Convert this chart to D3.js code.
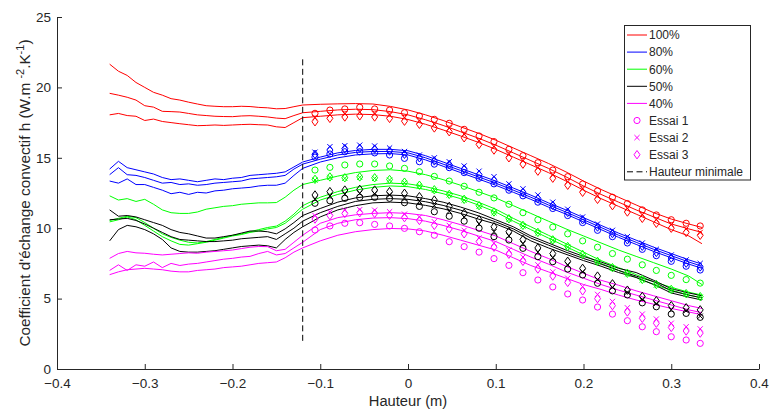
<!DOCTYPE html>
<html><head><meta charset="utf-8">
<script src="https://cdn.jsdelivr.net/npm/d3@7"></script>
<style>
body{margin:0;background:#fff}
svg{display:block}
text{font-family:"Liberation Sans",Arial,Helvetica,sans-serif;fill:#262626}
</style>
</head><body>
<svg id="c" width="772" height="415"></svg>
<script>
// ---------- data ----------
const lineX = [-0.34,-0.33,-0.32,-0.31,-0.30,-0.29,-0.28,-0.27,-0.26,-0.25,-0.24,-0.23,-0.22,-0.21,-0.20,-0.19,-0.18,-0.17,-0.16,-0.15,-0.14,-0.13,-0.12,
  -0.10,-0.08,-0.06,-0.04,-0.02,0.00,0.02,0.04,0.06,0.08,0.10,0.12,0.14,0.16,0.18,0.20,0.22,0.24,0.26,0.28,0.30,0.32,0.335];
const markerX = [-0.106,-0.089,-0.072,-0.055,-0.038,-0.021,-0.004,0.013,0.030,0.047,0.064,0.081,0.098,0.115,0.131,0.148,0.165,0.182,0.199,0.216,0.233,0.250,0.267,0.283,0.300,0.317,0.333];

// 100 %
const red1 = [21.65,21.15,20.85,20.35,20.0,19.65,19.45,19.2,19.1,18.95,18.82,18.7,18.66,18.63,18.63,18.66,18.64,18.58,18.55,18.48,18.5,18.63,18.75,
  18.8,18.83,18.85,18.82,18.65,18.4,18.05,17.65,17.2,16.75,16.25,15.7,15.15,14.6,14.0,13.35,12.75,12.2,11.65,11.1,10.65,10.3,10.05];
const red2 = [19.58,19.45,19.3,19.1,18.7,18.6,18.3,18.28,18.25,18.15,18.05,18.0,17.95,17.93,17.92,17.97,17.99,17.95,17.9,17.82,17.78,18.0,18.2,
  18.3,18.4,18.45,18.42,18.28,18.05,17.7,17.3,16.85,16.4,15.9,15.35,14.8,14.25,13.65,13.0,12.4,11.85,11.3,10.8,10.3,9.95,9.7];
const red3 = [18.05,18.15,18.0,17.95,17.65,17.75,17.58,17.5,17.42,17.35,17.28,17.3,17.33,17.3,17.33,17.36,17.38,17.35,17.33,17.2,17.15,17.5,17.85,
  17.95,18.05,18.1,18.07,17.95,17.72,17.38,16.98,16.55,16.1,15.6,15.05,14.5,13.95,13.35,12.7,12.1,11.55,11.0,10.45,9.9,9.45,8.9];
const redEssai1 = [18.16,18.39,18.47,18.59,18.47,18.39,18.2,17.97,17.73,17.45,17.02,16.55,16.15,15.6,15.15,14.65,14.13,13.66,13.14,12.65,12.2,11.75,11.3,10.94,10.6,10.35,10.16];
const redEssai2 = [17.85,18.05,18.12,18.24,18.12,18.04,17.85,17.62,17.38,17.1,16.67,16.2,15.8,15.25,14.8,14.3,13.78,13.3,12.8,12.3,11.85,11.4,10.95,10.6,10.25,9.95,9.7];
const redEssai3 = [17.56,17.8,17.9,17.98,17.9,17.8,17.6,17.38,17.12,16.85,16.42,15.95,15.55,15.0,14.55,14.05,13.55,13.05,12.55,12.05,11.6,11.15,10.7,10.35,10.0,9.7,9.5];

// 80 %
const blue1 = [14.2,14.75,14.3,14.15,14.0,13.85,13.6,13.45,13.5,13.4,13.3,13.4,13.5,13.45,13.55,13.6,13.75,13.8,13.85,13.9,14.0,14.35,14.7,
  15.05,15.35,15.52,15.6,15.6,15.5,15.15,14.7,14.25,13.8,13.35,12.85,12.35,11.8,11.3,10.75,10.2,9.65,9.15,8.65,8.2,7.75,7.45];
const blue2 = [13.8,14.3,13.8,13.75,13.6,13.4,13.2,13.25,13.1,13.15,13.05,13.1,13.2,13.25,13.3,13.35,13.5,13.55,13.6,13.65,13.75,14.2,14.55,
  14.9,15.2,15.38,15.45,15.45,15.35,15.0,14.55,14.1,13.65,13.2,12.7,12.2,11.65,11.15,10.6,10.05,9.5,9.0,8.5,8.05,7.6,7.3];
const blue3 = [13.35,13.2,13.5,13.1,13.1,12.9,12.7,12.45,12.55,12.4,12.55,12.5,12.65,12.7,12.8,12.85,12.9,13.0,13.05,13.05,13.2,13.75,14.25,
  14.7,15.0,15.2,15.28,15.3,15.2,14.85,14.4,13.95,13.5,13.05,12.55,12.05,11.5,11.0,10.45,9.9,9.35,8.85,8.35,7.9,7.45,7.15];
const blueEssai1 = [15.05,15.27,15.43,15.43,15.35,15.2,14.96,14.72,14.55,14.3,13.95,13.55,13.15,12.7,12.3,11.85,11.4,10.9,10.4,9.85,9.4,8.95,8.5,8.05,7.65,7.3,7.03];
const blueEssai2 = [15.4,15.79,15.86,15.9,15.84,15.7,15.45,15.2,15.0,14.72,14.42,14.05,13.66,13.15,12.8,12.36,11.85,11.35,10.8,10.3,9.85,9.4,8.95,8.5,8.1,7.75,7.5];
const blueEssai3 = [15.25,15.55,15.65,15.68,15.62,15.48,15.25,15.0,14.78,14.52,14.2,13.8,13.4,12.92,12.55,12.1,11.62,11.12,10.6,10.08,9.62,9.17,8.72,8.28,7.88,7.52,7.25];

// 60 %
const green1 = [12.3,12.0,12.1,11.9,12.05,11.7,11.3,11.1,11.05,11.05,11.15,11.35,11.45,11.55,11.6,11.7,11.75,11.8,11.8,11.82,12.2,12.7,13.1,
  13.4,13.7,13.95,14.1,14.15,14.05,13.8,13.45,13.05,12.6,12.15,11.6,11.05,10.5,9.95,9.45,8.95,8.45,8.0,7.55,7.1,6.6,6.0];
const green2 = [10.55,10.7,10.85,10.75,10.4,10.0,9.6,9.35,9.15,9.0,8.95,9.05,9.2,9.35,9.5,9.6,9.75,9.9,10.05,10.15,10.5,11.0,11.6,
  12.2,12.6,12.9,13.1,13.2,13.15,12.95,12.65,12.3,11.85,11.35,10.7,10.1,9.5,8.9,8.3,7.7,7.2,6.7,6.2,5.8,5.45,5.25];
const green3 = [10.45,10.6,10.8,10.6,10.2,9.8,9.4,9.1,8.85,8.8,8.9,9.0,9.15,9.3,9.45,9.55,9.7,9.8,9.95,10.05,10.35,10.85,11.35,
  12.0,12.4,12.7,12.9,13.0,12.95,12.75,12.45,12.1,11.65,11.15,10.5,9.9,9.3,8.7,8.1,7.5,7.0,6.5,6.0,5.6,5.25,5.05];
const greenEssai1 = [14.13,14.32,14.49,14.56,14.56,14.42,14.25,14.01,13.68,13.35,12.98,12.55,12.15,11.7,11.1,10.6,10.08,9.6,9.1,8.65,8.2,7.8,7.4,7.0,6.65,6.35,6.1];
const greenEssai2 = [13.42,13.61,13.54,13.61,13.54,13.42,13.23,13.0,12.69,12.36,12.0,11.55,11.1,10.62,10.16,9.66,9.13,8.66,8.1,7.6,7.15,6.75,6.32,5.95,5.6,5.3,5.1];
const greenEssai3 = [13.47,13.64,13.58,13.64,13.58,13.46,13.27,13.05,12.73,12.4,12.05,11.6,11.15,10.67,10.2,9.7,9.17,8.7,8.14,7.64,7.2,6.8,6.36,6.0,5.65,5.35,5.14];

// 50 %
const black1 = [11.3,10.85,10.9,10.8,10.6,10.4,10.2,9.9,9.7,9.6,9.45,9.3,9.3,9.4,9.5,9.65,9.8,9.8,9.75,9.6,9.95,10.4,10.9,
  11.4,11.85,12.15,12.3,12.35,12.3,12.1,11.85,11.5,11.1,10.6,10.1,9.45,8.95,8.45,8.0,7.6,7.15,6.85,6.3,5.7,5.4,5.2];
const black2 = [10.6,10.65,10.7,10.55,10.3,10.0,9.7,9.4,9.2,9.15,9.1,9.05,9.05,9.1,9.15,9.25,9.3,9.35,9.4,9.2,9.6,10.0,10.5,
  11.1,11.55,11.9,12.05,12.1,12.05,11.88,11.62,11.28,10.88,10.45,9.95,9.3,8.8,8.3,7.85,7.45,7.0,6.6,6.2,5.55,5.25,5.05];
const black3 = [9.1,9.9,10.2,10.1,9.9,9.6,9.2,8.6,8.35,8.3,8.3,8.35,8.4,8.5,8.6,8.7,8.75,8.8,8.75,8.6,9.2,9.7,10.1,
  10.8,11.3,11.6,11.8,11.85,11.8,11.62,11.38,11.05,10.65,10.3,9.8,9.1,8.6,8.15,7.7,7.3,6.85,6.5,6.0,5.4,5.1,4.9];
const blackEssai1 = [11.77,11.95,12.12,12.19,12.19,12.12,11.81,11.55,11.17,10.85,10.5,10.0,9.4,9.16,8.57,7.98,7.62,7.1,6.68,6.09,5.55,5.26,4.7,4.42,3.9,3.95,3.67];
const blackEssai2 = [12.05,12.28,12.42,12.48,12.45,12.36,12.15,11.9,11.6,11.2,10.8,10.3,9.75,9.45,8.9,8.3,7.9,7.4,6.9,6.35,5.8,5.45,4.95,4.65,4.2,4.15,3.75];
const blackEssai3 = [12.36,12.6,12.71,12.76,12.71,12.6,12.48,12.24,12.0,11.55,11.06,10.6,10.1,9.75,9.2,8.6,8.2,7.65,7.15,6.6,6.05,5.6,5.15,4.85,4.5,4.35,4.2];

// 40 %
const mag1 = [7.86,8.2,8.35,8.25,8.22,8.15,8.1,8.15,8.2,8.25,8.22,8.3,8.35,8.4,8.45,8.55,8.65,8.7,8.69,8.4,8.5,9.0,9.5,
  10.35,10.75,10.95,11.05,11.1,11.05,10.9,10.6,10.25,9.85,9.45,8.9,8.35,7.85,7.3,6.8,6.3,5.95,5.55,5.2,4.85,4.5,4.3];
const mag2 = [7.0,7.4,7.0,7.4,7.3,7.6,7.2,7.5,7.35,7.45,7.5,7.6,7.7,7.8,7.86,7.95,8.0,8.2,8.35,8.1,8.2,8.6,9.0,
  9.9,10.35,10.6,10.72,10.75,10.68,10.5,10.2,9.85,9.45,9.05,8.5,7.95,7.45,6.9,6.45,6.0,5.6,5.25,4.9,4.55,4.2,4.0];
const mag3 = [6.7,6.9,7.05,7.1,7.15,7.1,7.05,6.95,6.9,6.9,7.0,7.05,7.1,7.2,7.25,7.3,7.4,7.5,7.55,7.6,7.9,8.3,8.6,
  9.1,9.5,9.75,9.9,9.98,9.95,9.8,9.5,9.15,8.8,8.45,7.9,7.35,6.9,6.45,6.0,5.65,5.25,4.9,4.6,4.3,4.05,3.85];
const magEssai1 = [9.87,10.16,10.35,10.39,10.27,10.16,9.99,9.75,9.5,9.04,8.69,8.3,7.84,7.36,6.84,6.32,5.83,5.33,4.9,4.4,3.9,3.43,3.0,2.65,2.29,2.06,1.82];
const magEssai2 = [10.9,11.15,11.28,11.32,11.28,11.17,11.0,10.8,10.46,10.2,9.85,9.3,8.93,8.45,7.95,7.4,6.9,6.45,5.85,5.3,4.8,4.35,3.9,3.55,3.25,3.0,2.85];
const magEssai3 = [10.65,10.9,11.05,11.1,11.05,10.92,10.75,10.55,10.2,9.95,9.6,9.05,8.65,8.15,7.65,7.1,6.6,6.15,5.55,5.0,4.5,4.05,3.6,3.25,2.95,2.7,2.55];

const seriesNames = ["100%","80%","60%","50%","40%"];
const seriesColors = ["#ff0000","#0000ff","#00ff00","#000000","#ff00ff"];
const essaiNames = ["Essai 1","Essai 2","Essai 3"];
const xTicks = [-0.4,-0.3,-0.2,-0.1,0,0.1,0.2,0.3,0.4];
const yTicks = [0,5,10,15,20,25];
const minHeightX = -0.12;
const minHeightRange = [2,22];

const groups = [
  {lines:[red1,red2,red3], essais:[redEssai1,redEssai2,redEssai3]},
  {lines:[blue1,blue2,blue3], essais:[blueEssai1,blueEssai2,blueEssai3]},
  {lines:[green1,green2,green3], essais:[greenEssai1,greenEssai2,greenEssai3]},
  {lines:[black1,black2,black3], essais:[blackEssai1,blackEssai2,blackEssai3]},
  {lines:[mag1,mag2,mag3], essais:[magEssai1,magEssai2,magEssai3]}
];

// ---------- drawing ----------
const svg = d3.select("#c");
const x = d3.scaleLinear().domain([-0.4,0.4]).range([57,759]);
const y = d3.scaleLinear().domain([0,25]).range([369,17]);
const axisColor = "#262626";

const markerPaths = [
  null,
  "M-2.6,-2.6L2.6,2.6M-2.6,2.6L2.6,-2.6",
  "M0,-4.2L3,0L0,4.2L-3,0Z"
];
function drawMarker(sel, kind, color){
  if(kind===0){
    sel.append("circle").attr("r",3.1).attr("fill","none").attr("stroke",color).attr("stroke-width",1);
  } else {
    sel.append("path").attr("d",markerPaths[kind]).attr("fill","none").attr("stroke",color).attr("stroke-width",1);
  }
}

const line = d3.line().x((d,i)=>x(lineX[i])).y(d=>y(d));
const plot = svg.append("g");

groups.forEach((g,gi)=>{
  const col = seriesColors[gi];
  g.lines.forEach(arr=>{
    plot.append("path").attr("d",line(arr)).attr("fill","none")
      .attr("stroke",col).attr("stroke-width",1).attr("stroke-linejoin","round");
  });
});
groups.forEach((g,gi)=>{
  const col = seriesColors[gi];
  g.essais.forEach((arr,k)=>{
    arr.forEach((v,i)=>{
      const m = plot.append("g").attr("transform",`translate(${x(markerX[i])},${y(v)})`);
      drawMarker(m,k,col);
    });
  });
});

// minimal height
plot.append("line").attr("x1",x(minHeightX)).attr("x2",x(minHeightX))
  .attr("y1",y(minHeightRange[0])).attr("y2",y(minHeightRange[1]))
  .attr("stroke","#000").attr("stroke-width",1).attr("stroke-dasharray","6,3.5");

// axes
const xAxis = d3.axisBottom(x).tickValues(xTicks).tickSizeInner(-5).tickSizeOuter(0).tickPadding(9)
  .tickFormat(d=>d===0?"0":d3.format("")(+d.toFixed(1)));
const gx = svg.append("g").attr("transform","translate(0,369)").call(xAxis);
gx.selectAll("text").attr("font-size","13.5px").attr("fill",axisColor).attr("font-family",null);
gx.select(".domain").attr("stroke",axisColor);
gx.selectAll(".tick line").attr("stroke",axisColor);

const yAxis = d3.axisLeft(y).tickValues(yTicks).tickSizeInner(-5).tickSizeOuter(0).tickPadding(6);
const gy = svg.append("g").attr("transform","translate(57,0)").call(yAxis);
gy.selectAll("text").attr("font-size","13.5px").attr("fill",axisColor).attr("font-family",null);
gy.select(".domain").attr("stroke",axisColor);
gy.selectAll(".tick line").attr("stroke",axisColor);

// labels
svg.append("text").attr("x",408).attr("y",406).attr("text-anchor","middle")
  .attr("font-size","14.7px").text("Hauteur (m)");
const yl = svg.append("text").attr("transform","translate(29.5,193) rotate(-90)")
  .attr("text-anchor","middle").attr("font-size","15.3px");
yl.append("tspan").text("Coefficient d'échange convectif h (W.m ");
yl.append("tspan").attr("font-size","11px").attr("dy",-5.5).text("-2");
yl.append("tspan").attr("dy",5.5).text(".K");
yl.append("tspan").attr("font-size","11px").attr("dy",-5.5).text("-1");
yl.append("tspan").attr("dy",5.5).text(")");

// legend
const lg = svg.append("g");
lg.append("rect").attr("x",624.5).attr("y",25.5).attr("width",126).attr("height",154.5)
  .attr("fill","#fff").attr("stroke",axisColor).attr("stroke-width",1);
const rowY = i=>35+i*17.1;
seriesNames.forEach((n,i)=>{
  lg.append("line").attr("x1",627).attr("x2",647).attr("y1",rowY(i)).attr("y2",rowY(i))
    .attr("stroke",seriesColors[i]).attr("stroke-width",1);
  lg.append("text").attr("x",649).attr("y",rowY(i)+4.3).attr("font-size","12px").text(n);
});
essaiNames.forEach((n,k)=>{
  const i = 5+k;
  const m = lg.append("g").attr("transform",`translate(637,${rowY(i)})`);
  drawMarker(m,k,seriesColors[4]);
  lg.append("text").attr("x",649).attr("y",rowY(i)+4.3).attr("font-size","12px").text(n);
});
lg.append("line").attr("x1",627).attr("x2",647).attr("y1",rowY(8)).attr("y2",rowY(8))
  .attr("stroke","#000").attr("stroke-width",1).attr("stroke-dasharray","6,3.5");
lg.append("text").attr("x",649).attr("y",rowY(8)+4.3).attr("font-size","12px").text("Hauteur minimale");
</script>
</body></html>
